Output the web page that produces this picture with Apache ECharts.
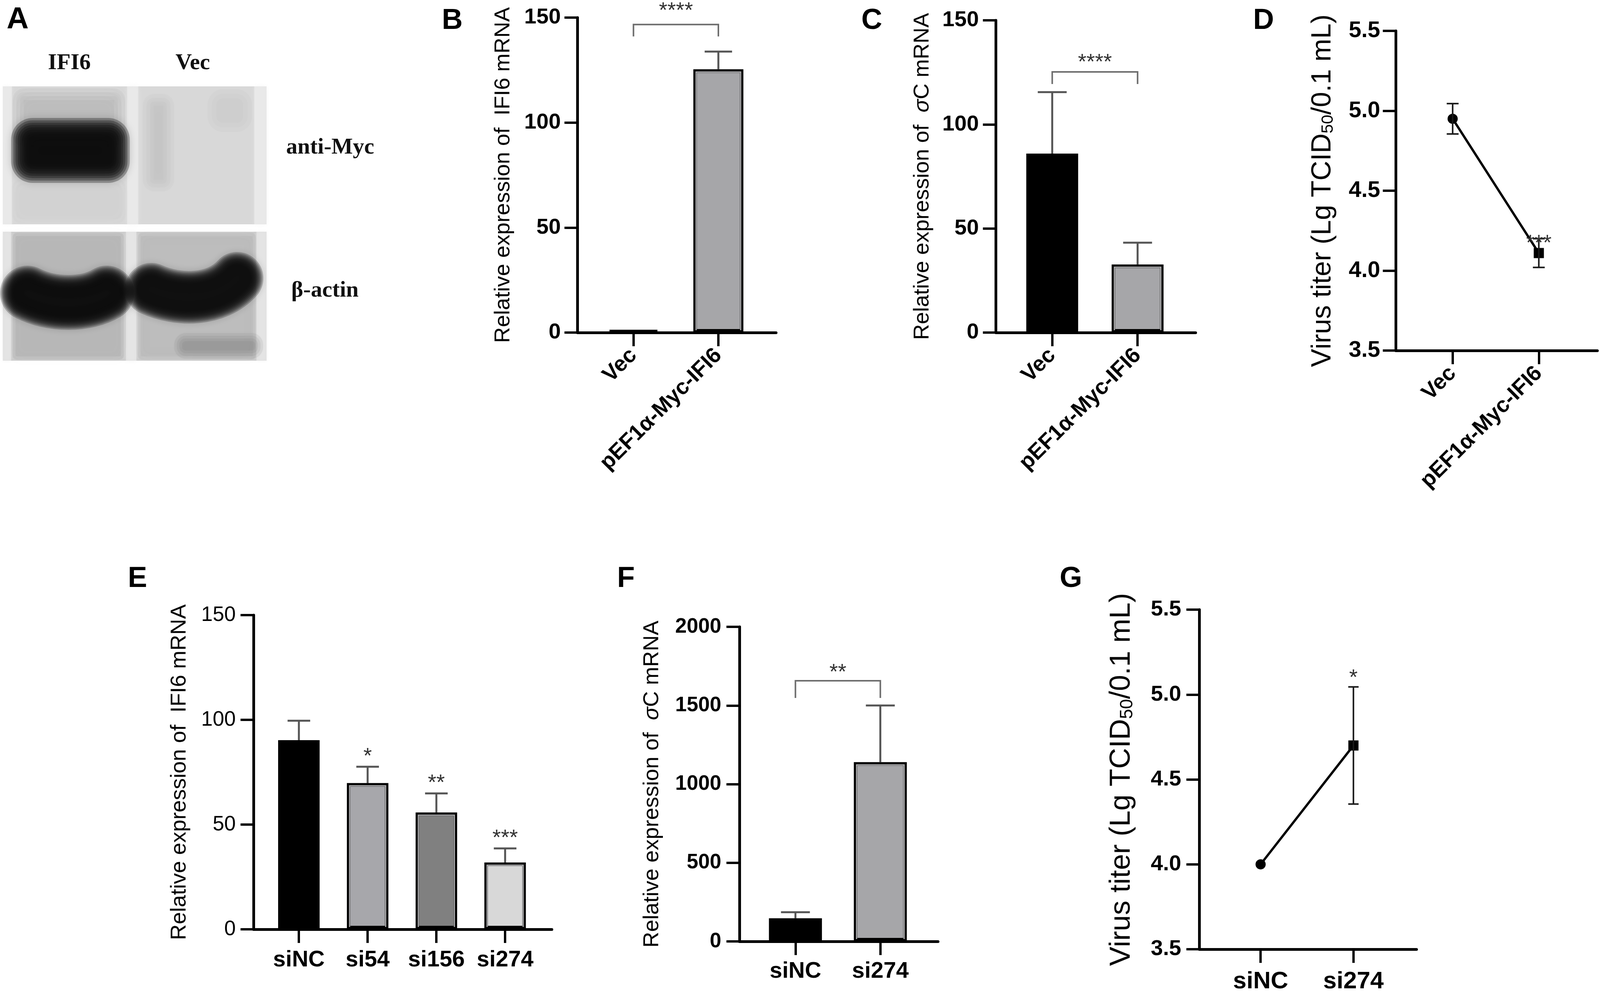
<!DOCTYPE html>
<html>
<head>
<meta charset="utf-8">
<script src="https://cdn.jsdelivr.net/npm/echarts@6.0.0/dist/echarts.min.js"></script>
<style>
html, body { margin: 0; padding: 0; background: #fff; overflow: hidden; }
#chart { height: 2541px; }
</style>
</head>
<body>
<div id="chart"></div>
<script>
// ---------- data ----------
var catsTop = ['Vec', 'pEF1α-Myc-IFI6'];
var catsKd4 = ['siNC', 'si54', 'si156', 'si274'];
var catsKd2 = ['siNC', 'si274'];

// B: IFI6 mRNA after over-expression
var ifi6OverMean = [1, 125.4];
var ifi6OverSd = [0, 8.4];
// C: sigmaC mRNA after over-expression
var sigmaOverMean = [86, 32.7];
var sigmaOverSd = [29.5, 10.5];
// D: virus titer after over-expression
var titerOverMean = [4.95, 4.11];
var titerOverSd = [0.095, 0.09];
// E: IFI6 mRNA after knock-down
var ifi6KdMean = [90.3, 69.8, 55.8, 31.9];
var ifi6KdSd = [9.3, 7.8, 9.1, 6.7];
var ifi6KdStars = ['', '*', '**', '***'];
// F: sigmaC mRNA after knock-down
var sigmaKdMean = [147, 1140];
var sigmaKdSd = [39, 360];
// G: virus titer after knock-down
var titerKdMean = [4.0, 4.70];
var titerKdSd = [0, 0.345];

var ticksPct = [0, 50, 100, 150];
var ticksSigmaKd = [0, 500, 1000, 1500, 2000];
var ticksTiter = [3.5, 4.0, 4.5, 5.0, 5.5];

// significance brackets: [from, to, line value, leg value, star value, text]
var sigB = [[0, 1, 146.7, 141, 155.5, '****']];
var sigC = [[0, 1, 125.2, 119.4, 132, '****']];
var sigF = [[0, 1, 1657, 1548, 1739, '**']];

// the layout below is measured on a 4317 px wide figure; squeeze it into the real viewport
var REF_W = 4317;
var VIEW_W = Math.min(window.innerWidth || REF_W, REF_W);
var SX = VIEW_W / REF_W;
var FS = Math.sqrt(SX);
function X(v) { return v * SX; }
function F(v) { return Math.round(v * FS); }
document.getElementById('chart').style.width = VIEW_W + 'px';

var SANS = 'Liberation Sans, Arial, Helvetica, sans-serif';
var SERIF = 'Liberation Serif, Times New Roman, serif';

var nameIfi6 = 'Relative expression of  IFI6 mRNA';
var nameSigma = 'Relative expression of  {i|σ}C mRNA';
var nameTiter = 'Virus titer (Lg TCID{s|50}/0.1 mL)';

var panels = [
  { letter: 'B', lx: 1192, ly: 54, left: 1558, top: 45, right: 2094, bottom: 851, cats: catsTop, kind: 'bar',
    mean: ifi6OverMean, sd: ifi6OverSd, colors: ['#a6a6a9', '#a6a6a9'], yTicks: ticksPct,
    name: nameIfi6, nameSize: 57, nameGap: 170, tickSize: 58, tickWeight: 'bold', tickMargin: 45,
    labelSize: 58, rotate: 45, labelMargin: 50, barWidth: 135, capW: 74, sig: sigB },
  { letter: 'C', lx: 2324, ly: 54, left: 2687, top: 52, right: 3226, bottom: 851, cats: catsTop, kind: 'bar',
    mean: sigmaOverMean, sd: sigmaOverSd, colors: ['#000000', '#a6a6a9'], yTicks: ticksPct,
    name: nameSigma, nameSize: 57, nameGap: 169, tickSize: 58, tickWeight: 'bold', tickMargin: 46,
    labelSize: 58, rotate: 45, labelMargin: 50, barWidth: 140, capW: 78, sig: sigC },
  { letter: 'D', lx: 3381, ly: 54, left: 3766, top: 79, right: 4310, bottom: 897, cats: catsTop, kind: 'line',
    mean: titerOverMean, sd: titerOverSd, yTicks: ticksTiter, stars: ['', '***'], starGap: 0,
    name: nameTiter, nameSize: 72, nameGap: 160, tickSize: 60, tickWeight: 'bold', tickMargin: 42,
    labelSize: 58, rotate: 45, labelMargin: 50, capW: 32 },
  { letter: 'E', lx: 345, ly: 1482, left: 684, top: 1574, right: 1489, bottom: 2378, cats: catsKd4, kind: 'bar',
    mean: ifi6KdMean, sd: ifi6KdSd, colors: ['#000000', '#a7a7ab', '#808080', '#d8d8d8'], yTicks: ticksPct,
    stars: ifi6KdStars, starGap: 39,
    name: nameIfi6, nameSize: 57, nameGap: 170, tickSize: 54, tickWeight: 'normal', tickMargin: 48,
    labelSize: 60, rotate: 0, labelMargin: 50, barWidth: 112, capW: 61 },
  { letter: 'F', lx: 1665, ly: 1482, left: 1995, top: 1604, right: 2531, bottom: 2409, cats: catsKd2, kind: 'bar',
    mean: sigmaKdMean, sd: sigmaKdSd, colors: ['#000000', '#a6a6a9'], yTicks: ticksSigmaKd,
    name: nameSigma, nameSize: 57, nameGap: 206, tickSize: 54, tickWeight: 'bold', tickMargin: 49,
    labelSize: 60, rotate: 0, labelMargin: 48, barWidth: 143, capW: 78, sig: sigF },
  { letter: 'G', lx: 2859, ly: 1482, left: 3236, top: 1560, right: 3822, bottom: 2429, cats: catsKd2, kind: 'line',
    mean: titerKdMean, sd: titerKdSd, yTicks: ticksTiter, stars: ['', '*'], starGap: 35,
    name: nameTiter, nameSize: 76, nameGap: 170, tickSize: 58, tickWeight: 'bold', tickMargin: 49,
    labelSize: 64, rotate: 0, labelMargin: 52, capW: 28 }
];

function textStyle(txt, x, y, size, weight, family, align, color) {
  return {
    text: txt, x: x, y: y, fill: color || '#000',
    fontSize: size, fontWeight: weight, fontFamily: family,
    align: align, verticalAlign: 'middle', textAlign: align, textVerticalAlign: 'middle'
  };
}

function errorRenderer(p) {
  var both = p.kind === 'line';
  return function (params, api) {
    var k = api.value(0), m = api.value(1), s = api.value(2);
    var hi = api.coord([k, m + s]);
    var lo = api.coord([k, both ? m - s : m]);
    var hw = X(p.capW) / 2;
    var st = { stroke: both ? '#1a1a1a' : '#555', lineWidth: both ? 4 : 5 };
    var kids = [];
    if (s > 0) {
      kids.push({ type: 'line', shape: { x1: hi[0], y1: lo[1], x2: hi[0], y2: hi[1] }, style: st });
      kids.push({ type: 'line', shape: { x1: hi[0] - hw, y1: hi[1], x2: hi[0] + hw, y2: hi[1] }, style: st });
      if (both) {
        kids.push({ type: 'line', shape: { x1: lo[0] - hw, y1: lo[1], x2: lo[0] + hw, y2: lo[1] }, style: st });
      }
    }
    var star = p.stars ? p.stars[params.dataIndex] : '';
    if (star) {
      kids.push({ type: 'text', style: textStyle(star, hi[0], hi[1] - p.starGap + 13, F(58), 'normal', SANS, 'center', '#333') });
    }
    return { type: 'group', children: kids };
  };
}

// thin light edge just inside the black outline of the grey bars
function sheenRenderer(p) {
  return function (params, api) {
    var k = api.value(0), m = api.value(1);
    if (p.colors[k] === '#000000') return null;
    var top = api.coord([k, m]);
    var base = api.coord([k, p.yTicks[0]]);
    if (base[1] - top[1] < 30) return null;
    var hw = X(p.barWidth) / 2 - 7;
    return { type: 'polyline',
      shape: { points: [[top[0] - hw, base[1] - 6], [top[0] - hw, top[1] + 7], [top[0] + hw, top[1] + 7], [top[0] + hw, base[1] - 6]] },
      style: { stroke: 'rgba(235,235,238,0.75)', lineWidth: 3, fill: null } };
  };
}

function bracketRenderer(p) {
  return function (params, api) {
    var a = api.coord([api.value(0), api.value(2)]);
    var b = api.coord([api.value(1), api.value(2)]);
    var leg = api.coord([0, api.value(3)])[1];
    var sy = api.coord([0, api.value(4)])[1];
    var txt = p.sig[params.dataIndex][5];
    return {
      type: 'group',
      children: [
        { type: 'polyline', shape: { points: [[a[0], leg], [a[0], a[1]], [b[0], b[1]], [b[0], leg]] },
          style: { stroke: '#6e6e6e', lineWidth: 4, fill: null } },
        { type: 'text', style: textStyle(txt, (a[0] + b[0]) / 2, sy + 13, F(58), 'normal', SANS, 'center', '#333') }
      ]
    };
  };
}

var option = {
  animation: false,
  backgroundColor: '#fff',
  grid: [], xAxis: [], yAxis: [], series: [], graphic: []
};

panels.forEach(function (p, i) {
  var n = p.cats.length;
  var idx = p.cats.map(function (c, k) { return k; });
  var yt = p.yTicks;
  var dec = yt[1] - yt[0] < 1 ? 1 : 0;
  option.grid.push({
    left: X(p.left), top: p.top, width: X(p.right - p.left), height: p.bottom - p.top,
    containLabel: false, outerBoundsMode: 'none'
  });
  option.xAxis.push({
    type: 'value', gridIndex: i, min: -0.66, max: n - 1 + 0.68,
    axisLine: { show: true, onZero: false, lineStyle: { color: '#000', width: 7 } },
    axisTick: { show: true, length: 35, customValues: idx, lineStyle: { color: '#000', width: 6 } },
    axisLabel: {
      customValues: idx, rotate: p.rotate, margin: p.labelMargin,
      formatter: function (v) { return p.cats[Math.round(v)]; },
      color: '#000', fontSize: F(p.labelSize), fontWeight: 'bold', fontFamily: SANS
    },
    splitLine: { show: false }
  });
  option.yAxis.push({
    type: 'value', gridIndex: i, min: yt[0], max: yt[yt.length - 1], interval: yt[1] - yt[0],
    axisLine: { show: true, onZero: false, lineStyle: { color: '#000', width: 7 } },
    axisTick: { show: true, length: X(35), lineStyle: { color: '#000', width: 6 } },
    axisLabel: {
      margin: X(p.tickMargin), color: '#000', fontSize: F(p.tickSize), fontWeight: p.tickWeight, fontFamily: SANS,
      formatter: function (v) { return v.toFixed(dec); }
    },
    splitLine: { show: false },
    name: p.name, nameLocation: 'middle', nameGap: X(p.nameGap),
    nameTextStyle: {
      color: '#000', fontSize: F(p.nameSize), fontFamily: SANS,
      rich: {
        i: { fontSize: F(p.nameSize), fontFamily: SANS, fontStyle: 'italic', color: '#000' },
        s: { fontSize: F(p.nameSize * 0.62), fontFamily: SANS, color: '#000', verticalAlign: 'bottom' }
      }
    }
  });

  if (p.kind === 'bar') {
    option.series.push({
      type: 'bar', xAxisIndex: i, yAxisIndex: i, z: 3, barWidth: X(p.barWidth),
      data: p.mean.map(function (v, k) {
        return { value: [k, v], itemStyle: { color: p.colors[k] } };
      }),
      itemStyle: { borderColor: '#000', borderWidth: 9 }
    });
    option.series.push({
      type: 'custom', xAxisIndex: i, yAxisIndex: i, z: 4,
      data: p.mean.map(function (v, k) { return [k, v]; }),
      renderItem: sheenRenderer(p)
    });
  } else {
    option.series.push({
      type: 'line', xAxisIndex: i, yAxisIndex: i, z: 4, symbolSize: 26,
      data: p.mean.map(function (v, k) {
        return { value: [k, v], symbol: k === 0 ? 'circle' : 'rect' };
      }),
      lineStyle: { color: '#000', width: 6 },
      itemStyle: { color: '#000' }
    });
  }
  option.series.push({
    type: 'custom', xAxisIndex: i, yAxisIndex: i, z: p.kind === 'bar' ? 2 : 5, clip: false,
    data: p.mean.map(function (v, k) { return [k, v, p.sd[k]]; }),
    renderItem: errorRenderer(p)
  });
  if (p.sig) {
    option.series.push({
      type: 'custom', xAxisIndex: i, yAxisIndex: i, z: 5, clip: false,
      data: p.sig.map(function (s) { return s.slice(0, 5); }),
      renderItem: bracketRenderer(p)
    });
  }
  option.graphic.push({ type: 'text', style: textStyle(p.letter, X(p.lx), p.ly, F(76), 'bold', SANS, 'left') });
});

// ---------- panel A: western blot (a photo, imitated with soft shapes) ----------
function rgba(g, a) { return 'rgba(' + g + ',' + g + ',' + g + ',' + a + ')'; }
// a patch built from stacked translucent layers so that its edges fade out
function soft(x, y, w, h, g, layers, inset, a, r, blur) {
  var out = [];
  for (var i = 0; i < layers; i++) {
    var d = i * inset;
    if (w - 2 * d <= 4 || h - 2 * d <= 4) break;
    out.push({ type: 'rect',
      shape: { x: X(x + d), y: y + d, width: X(w - 2 * d), height: h - 2 * d, r: Math.max(0, r - d) },
      style: { fill: rgba(g, a), shadowBlur: blur, shadowColor: rgba(g, a) } });
  }
  return out;
}
// a curved band: stacked round-capped strokes, widest and faintest first
function band(pts, g, wMax, wMin, step, a) {
  var out = [];
  for (var w = wMax; w >= wMin; w -= step) {
    out.push({ type: 'bezierCurve',
      shape: { x1: X(pts[0]), y1: pts[1], cpx1: X(pts[2]), cpy1: pts[3], cpx2: X(pts[4]), cpy2: pts[5], x2: X(pts[6]), y2: pts[7] },
      style: { stroke: rgba(g, a), lineWidth: w, lineCap: 'round', fill: null, shadowBlur: 22, shadowColor: rgba(g, a) } });
  }
  return out;
}
function plain(x, y, w, h, color) {
  return { type: 'rect', shape: { x: X(x), y: y, width: X(w), height: h }, style: { fill: color } };
}
var blotParts = [].concat(
  // upper membrane (anti-Myc)
  [plain(8, 221, 711, 353, '#d8d8d8')],
  soft(8, 221, 24, 353, 236, 1, 0, 0.7, 0, 10),
  soft(343, 221, 30, 353, 236, 1, 0, 0.7, 0, 14),
  soft(686, 221, 33, 353, 236, 1, 0, 0.7, 0, 10),
  soft(34, 226, 304, 150, 160, 4, 10, 0.13, 30, 30),
  soft(34, 460, 304, 110, 200, 2, 10, 0.1, 20, 30),
  soft(385, 240, 85, 250, 170, 4, 10, 0.08, 30, 30),
  soft(560, 228, 120, 110, 175, 3, 12, 0.07, 40, 30),
  soft(30, 302, 320, 166, 15, 11, 6, 0.3, 55, 24),
  // lower membrane (beta-actin)
  [plain(8, 593, 711, 330, '#cdcdcd')],
  soft(34, 596, 300, 324, 150, 2, 8, 0.17, 10, 26),
  soft(372, 596, 318, 324, 155, 2, 8, 0.15, 10, 26),
  soft(340, 593, 28, 330, 232, 1, 0, 0.75, 0, 12),
  soft(8, 593, 22, 330, 232, 1, 0, 0.7, 0, 8),
  soft(692, 593, 27, 330, 232, 1, 0, 0.7, 0, 8),
  soft(470, 852, 240, 66, 110, 4, 7, 0.1, 30, 26),
  band([74, 750, 140, 782, 232, 782, 288, 750], 12, 140, 70, 7, 0.24),
  band([408, 740, 482, 772, 585, 770, 640, 712], 12, 134, 66, 7, 0.24),
  [
    { type: 'text', style: textStyle('IFI6', X(187), 162, F(60), 'bold', SERIF, 'center', '#111') },
    { type: 'text', style: textStyle('Vec', X(520), 162, F(60), 'bold', SERIF, 'center', '#111') },
    { type: 'text', style: textStyle('anti-Myc', X(772), 378, F(60), 'bold', SERIF, 'left', '#111') },
    { type: 'text', style: textStyle('β-actin', X(786), 744, F(60), 'bold', SERIF, 'left', '#111') },
    { type: 'text', style: textStyle('A', X(18), 51, F(80), 'bold', SANS, 'left') }
  ]
);
option.graphic = blotParts.concat(option.graphic);

var chart = echarts.init(document.getElementById('chart'), null, { renderer: 'canvas' });
chart.setOption(option);
</script>
</body>
</html>
